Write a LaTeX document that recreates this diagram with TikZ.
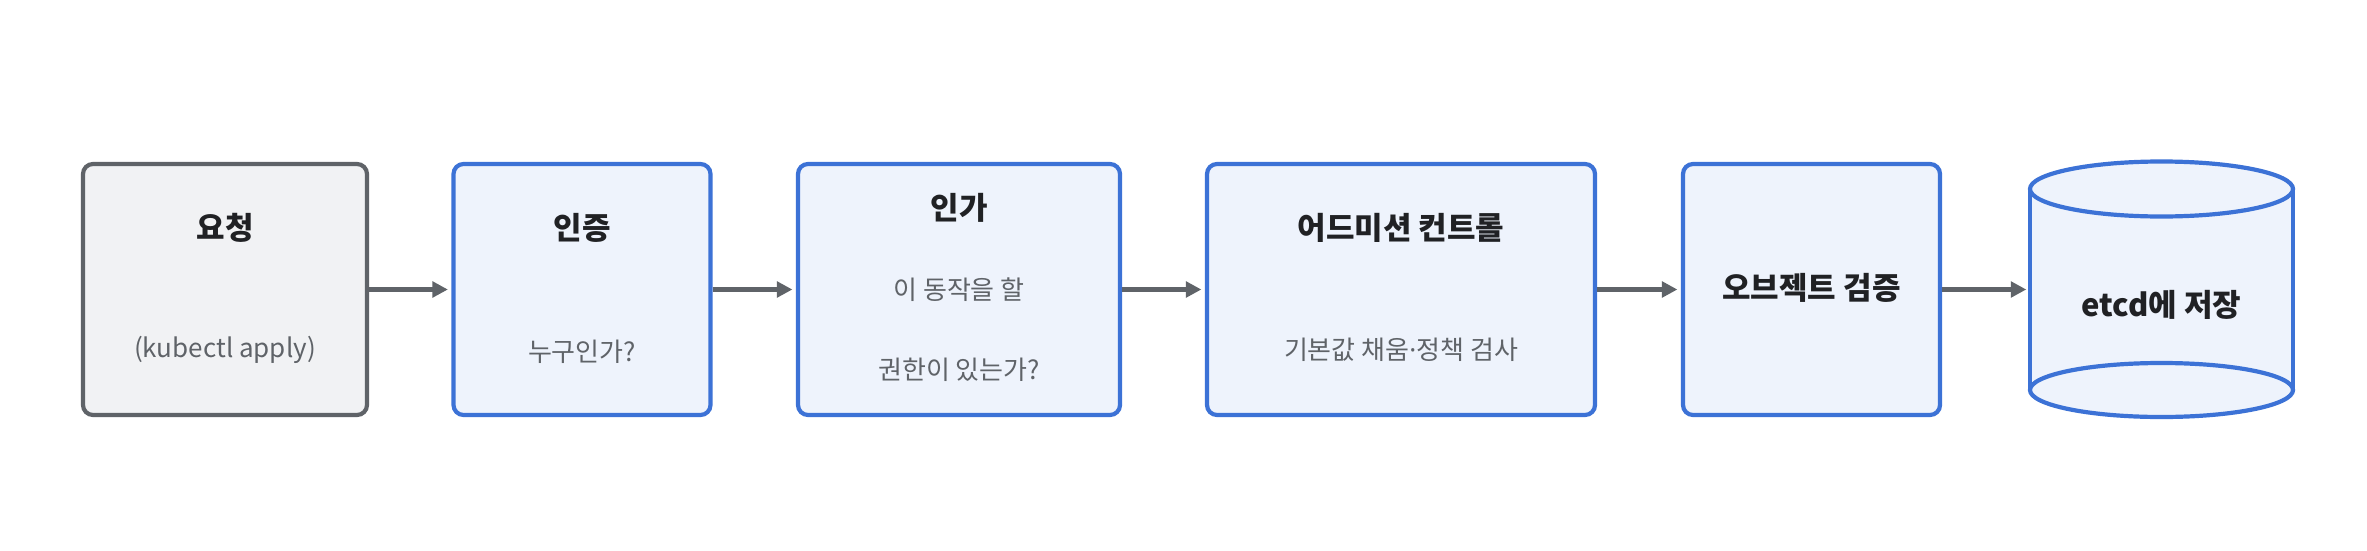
\documentclass[tikz,border=0pt]{standalone}
\usepackage{fontspec}
\setmainfont{Noto Sans CJK KR}
\newfontfamily\latinfont{Noto Sans}
\usetikzlibrary{arrows.meta}
\definecolor{graystroke}{HTML}{5F6368}
\definecolor{grayfill}{HTML}{F1F2F4}
\definecolor{bluestroke}{HTML}{3C72D6}
\definecolor{bluefill}{HTML}{EEF3FC}
\definecolor{titlecol}{HTML}{202124}
\definecolor{subcol}{HTML}{5F6368}
\begin{document}
\begin{tikzpicture}[x=1pt,y=-1pt,
  box/.style={rectangle, rounded corners=10pt, line width=4.2pt, inner sep=0pt, minimum height=251pt},
  graybox/.style={box, draw=graystroke, fill=grayfill},
  bluebox/.style={box, draw=bluestroke, fill=bluefill},
  title/.style={font=\fontsize{31}{34}\selectfont\bfseries, text=titlecol, inner sep=0pt},
  sub/.style={font=\fontsize{26}{29}\selectfont, text=subcol, inner sep=0pt},
  arr/.style={draw=graystroke, line width=4.2pt, -{Triangle[length=15.5pt,width=15.5pt]}, shorten >=3.5pt},
  cyl/.style={draw=bluestroke, line width=4.2pt}
]
\useasboundingbox (0,0) rectangle (2367,551);

\node[graybox, minimum width=284pt] (A) at (225,289.5) {};
\node[bluebox, minimum width=257pt] (B) at (582,289.5) {};
\node[bluebox, minimum width=322pt] (C) at (959,289.5) {};
\node[bluebox, minimum width=388pt] (D) at (1401,289.5) {};
\node[bluebox, minimum width=257pt] (E) at (1811.5,289.5) {};
\node[rectangle, inner sep=0pt, minimum width=263pt, minimum height=255pt] (F) at (2161.5,289.5) {};

% cylinder
\fill[bluefill] (2030,189) rectangle (2293,390);
\fill[bluefill] (2161.5,390) ellipse [x radius=131.5pt, y radius=27pt];
\draw[cyl] (2161.5,390) ellipse [x radius=131.5pt, y radius=27pt];
\draw[cyl] (2030,189) -- (2030,390);
\draw[cyl] (2293,189) -- (2293,390);
\filldraw[cyl, fill=bluefill] (2161.5,189) ellipse [x radius=131.5pt, y radius=27.5pt];

% texts
\node[title] (At) at (225,228) {요청};
\node[sub] (As) at (225,350) {(kubectl apply)};
\node[title] (Bt) at (582,228) {인증};
\node[sub] (Bs) at (582,352) {누구인가?};
\node[title] (Ct) at (959,208) {인가};
\node[sub] (Cs1) at (959,290) {이 동작을 할};
\node[sub] (Cs2) at (959,370) {권한이 있는가?};
\node[title] (Dt) at (1401,228) {어드미션 컨트롤};
\node[sub] (Ds) at (1401,350) {기본값 채움{\latinfont ·}정책 검사};
\node[title] (Et) at (1811.5,288) {오브젝트 검증};
\node[title] (Ft) at (2161.5,305) {etcd에 저장};

% arrows
\draw[arr] (A.east) -- (B.west);
\draw[arr] (B.east) -- (C.west);
\draw[arr] (C.east) -- (D.west);
\draw[arr] (D.east) -- (E.west);
\draw[arr] (E.east) -- (F.west);
\end{tikzpicture}
\end{document}
